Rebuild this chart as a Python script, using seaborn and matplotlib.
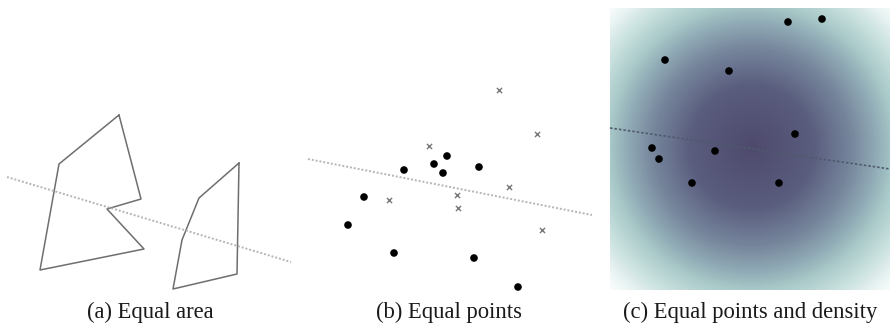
import numpy as np
import pandas as pd
import matplotlib
matplotlib.use("Agg")
import matplotlib.pyplot as plt
from matplotlib.colors import LinearSegmentedColormap
import seaborn as sns

# ---------------- data (pixel units) ----------------
# (a) Equal area: two polygons and the splitting line
poly1_x = [119, 141, 107, 144, 40, 59, 119]
poly1_y = [115, 199, 209, 249, 270, 164, 115]
poly2_x = [239, 237, 173, 182, 199, 239]
poly2_y = [163, 274, 289, 240, 198, 163]
line_a_x = [7, 291]
line_a_y = [177, 262]

# (b) Equal points: dots, crosses and splitting line
dots_b_x = [404, 434, 447, 443, 479, 364, 348, 394, 474, 518]
dots_b_y = [170, 164, 156, 173, 167, 197, 225, 253, 258, 287]
cross_b_x = [499, 537, 429, 509, 457, 458, 389, 542]
cross_b_y = [90, 134, 146, 187, 195, 208, 200, 230]
line_b_x = [308, 592]
line_b_y = [159, 215]

# (c) Equal points and density
dots_c_x = [788, 822, 665, 729, 795, 652, 659, 715, 692, 779]
dots_c_y = [22, 19, 60, 71, 134, 148, 159, 151, 183, 183]
line_c_x = [610, 890]
line_c_y = [128, 169]
density_center = (752, 147)
density_extent = (610, 890, 290, 8)

captions = ["(a) Equal area", "(b) Equal points", "(c) Equal points and density"]
caption_x = [150, 449, 750]

# ---------------- figure ----------------
sns.set_theme(style="white")
plt.rcParams["font.family"] = ["Liberation Serif", "DejaVu Serif"]

fig = plt.figure(figsize=(8.9, 3.24), dpi=100)
ax = fig.add_axes([0, 0, 1, 1])
ax.set_xlim(0, 890)
ax.set_ylim(324, 0)
ax.axis("off")

# density background for (c)
x0, x1, y1, y0 = density_extent
gx = np.linspace(x0, x1, 280)
gy = np.linspace(y0, y1, 282)
XX, YY = np.meshgrid(gx, gy)
r = np.sqrt((XX - density_center[0]) ** 2 + (YY - density_center[1]) ** 2)
cmap = LinearSegmentedColormap.from_list(
    "dens",
    [(0.0, "#4e4a6d"), (0.3, "#5a5d7e"), (0.48, "#75849b"),
     (0.62, "#93aeb8"), (0.70, "#a8c9c8"), (0.82, "#cbe2e0"),
     (0.93, "#eef6f6"), (1.0, "#ffffff")],
)
ax.imshow(r, extent=(x0, x1, y1, y0), cmap=cmap, vmin=0, vmax=205,
          aspect="auto", interpolation="bilinear", zorder=0)

# (a)
for px, py in [(poly1_x, poly1_y), (poly2_x, poly2_y)]:
    sns.lineplot(x=px, y=py, sort=False, estimator=None, ax=ax,
                 color="#6e6e6e", linewidth=1.1)
sns.lineplot(x=line_a_x, y=line_a_y, sort=False, estimator=None, ax=ax,
             color="#b5b5b5", linewidth=1.4, linestyle=(0, (1, 1)))

# (b)
sns.lineplot(x=line_b_x, y=line_b_y, sort=False, estimator=None, ax=ax,
             color="#b5b5b5", linewidth=1.4, linestyle=(0, (1, 1)))
sns.scatterplot(x=dots_b_x, y=dots_b_y, ax=ax, color="black", s=30,
                edgecolor="none", zorder=3)
sns.scatterplot(x=cross_b_x, y=cross_b_y, ax=ax, color="#7a7a7a", marker="x",
                s=14, linewidth=1.0, zorder=3)

# (c)
sns.lineplot(x=line_c_x, y=line_c_y, sort=False, estimator=None, ax=ax,
             color="#4f5a6e", linewidth=1.2, linestyle=(0, (1.5, 1.2)), zorder=2)
sns.scatterplot(x=dots_c_x, y=dots_c_y, ax=ax, color="black", s=30,
                edgecolor="none", zorder=3)

for cx, t in zip(caption_x, captions):
    ax.text(cx, 312, t, ha="center", va="center", fontsize=16.3, color="#1a1a1a",
            family=["Liberation Serif", "DejaVu Serif"])

ax.set_xlabel("")
ax.set_ylabel("")
fig.savefig("out.png", dpi=100)
